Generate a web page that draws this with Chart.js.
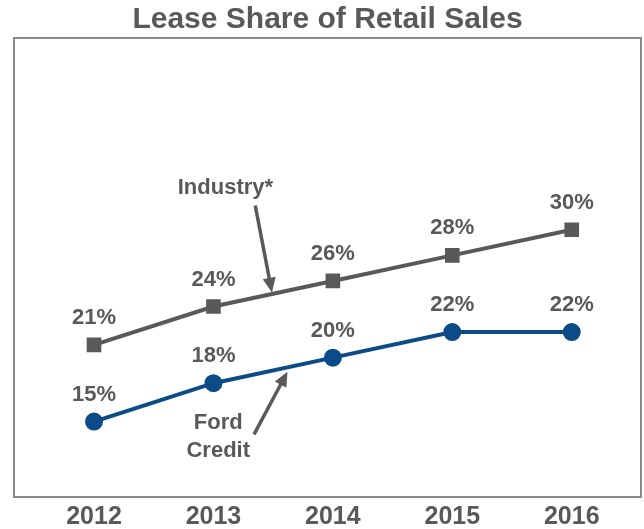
<!DOCTYPE html>
<html>
<head>
<meta charset="utf-8">
<script src="https://cdn.jsdelivr.net/npm/chart.js@4"></script>
<style>
  html, body { margin: 0; padding: 0; background: #fff; }
  #chart-box { width: 644px; height: 529px; }
</style>
</head>
<body>
<div id="chart-box"><canvas id="leaseChart"></canvas></div>
<script>
const years = [2012, 2013, 2014, 2015, 2016];
const industry = [21, 24, 26, 28, 30];
const fordCredit = [15, 18, 20, 22, 22];

// callouts in data units: [x, y]
const industryLabelAt = [2013.1, 33.3];
const industryArrow = [[2013.35, 31.9], [2013.49, 25.1]];
const fordLabelAt = [[2013.04, 14.9, "Ford"], [2013.04, 12.7, "Credit"]];
const fordArrow = [[2013.34, 14.0], [2013.62, 18.9]];

const textGray = "#595959";
const fontName = "'Liberation Sans', Arial, sans-serif";

function toPoints(values) {
  return values.map((v, i) => ({ x: years[i], y: v }));
}

function drawArrow(ctx, x1, y1, x2, y2) {
  const ang = Math.atan2(y2 - y1, x2 - x1);
  const head = 16;
  ctx.save();
  ctx.strokeStyle = textGray;
  ctx.fillStyle = textGray;
  ctx.lineWidth = 3.5;
  ctx.beginPath();
  ctx.moveTo(x1, y1);
  ctx.lineTo(x2 - Math.cos(ang) * head * 0.8, y2 - Math.sin(ang) * head * 0.8);
  ctx.stroke();
  ctx.beginPath();
  ctx.moveTo(x2, y2);
  ctx.lineTo(x2 - head * Math.cos(ang - 0.42), y2 - head * Math.sin(ang - 0.42));
  ctx.lineTo(x2 - head * Math.cos(ang + 0.42), y2 - head * Math.sin(ang + 0.42));
  ctx.closePath();
  ctx.fill();
  ctx.restore();
}

const frameAndLabels = {
  id: "frameAndLabels",
  afterDraw(chart) {
    const { ctx, chartArea, scales } = chart;
    const xs = scales.x, ys = scales.y;
    ctx.save();
    // frame
    ctx.strokeStyle = "#8a8a8a";
    ctx.lineWidth = 2;
    ctx.strokeRect(chartArea.left, chartArea.top, chartArea.right - chartArea.left, chartArea.bottom - chartArea.top);

    // value labels above points
    ctx.fillStyle = textGray;
    ctx.font = "bold 22px " + fontName;
    ctx.textAlign = "center";
    ctx.textBaseline = "middle";
    chart.data.datasets.forEach((ds) => {
      ds.data.forEach((p) => {
        ctx.fillText(p.y + "%", xs.getPixelForValue(p.x), ys.getPixelForValue(p.y) - 27);
      });
    });

    // callouts
    ctx.fillText("Industry*", xs.getPixelForValue(industryLabelAt[0]), ys.getPixelForValue(industryLabelAt[1]));
    fordLabelAt.forEach((t) => {
      ctx.fillText(t[2], xs.getPixelForValue(t[0]), ys.getPixelForValue(t[1]));
    });
    ctx.restore();

    drawArrow(ctx,
      xs.getPixelForValue(industryArrow[0][0]), ys.getPixelForValue(industryArrow[0][1]),
      xs.getPixelForValue(industryArrow[1][0]), ys.getPixelForValue(industryArrow[1][1]));
    drawArrow(ctx,
      xs.getPixelForValue(fordArrow[0][0]), ys.getPixelForValue(fordArrow[0][1]),
      xs.getPixelForValue(fordArrow[1][0]), ys.getPixelForValue(fordArrow[1][1]));
  },
};

const ctx = document.getElementById("leaseChart").getContext("2d");

new Chart(ctx, {
  type: "line",
  data: {
    datasets: [
      {
        label: "Industry*",
        data: toPoints(industry),
        borderColor: "#595959",
        backgroundColor: "#595959",
        borderWidth: 4,
        pointStyle: "rect",
        pointRadius: 7.5,
        tension: 0,
      },
      {
        label: "Ford Credit",
        data: toPoints(fordCredit),
        borderColor: "#0b4b88",
        backgroundColor: "#0b4b88",
        borderWidth: 4,
        pointStyle: "circle",
        pointRadius: 7,
        tension: 0,
      },
    ],
  },
  options: {
    responsive: true,
    maintainAspectRatio: false,
    animation: false,
    layout: { autoPadding: false, padding: { left: 14, right: 3, top: 0, bottom: 0 } },
    plugins: {
      legend: { display: false },
      tooltip: { enabled: false },
      title: {
        display: true,
        text: "Lease Share of Retail Sales",
        color: textGray,
        font: { family: fontName, size: 30, weight: "bold", lineHeight: 1.2 },
        padding: { top: 2, bottom: 0 },
      },
    },
    scales: {
      x: {
        type: "linear",
        min: 2011.33,
        max: 2016.58,
        afterBuildTicks: (scale) => {
          scale.ticks = years.map((y) => ({ value: y }));
        },
        afterFit: (scale) => {
          scale.height = 32;
          scale.paddingLeft = 0;
          scale.paddingRight = 0;
        },
        grid: { display: false, drawTicks: false },
        border: { display: false },
        ticks: {
          color: textGray,
          font: { family: fontName, size: 25, weight: "bold" },
          padding: 5,
          maxRotation: 0,
          callback: (v) => String(v),
        },
      },
      y: {
        display: false,
        min: 9.1,
        max: 45,
      },
    },
  },
  plugins: [frameAndLabels],
});
</script>
</body>
</html>
